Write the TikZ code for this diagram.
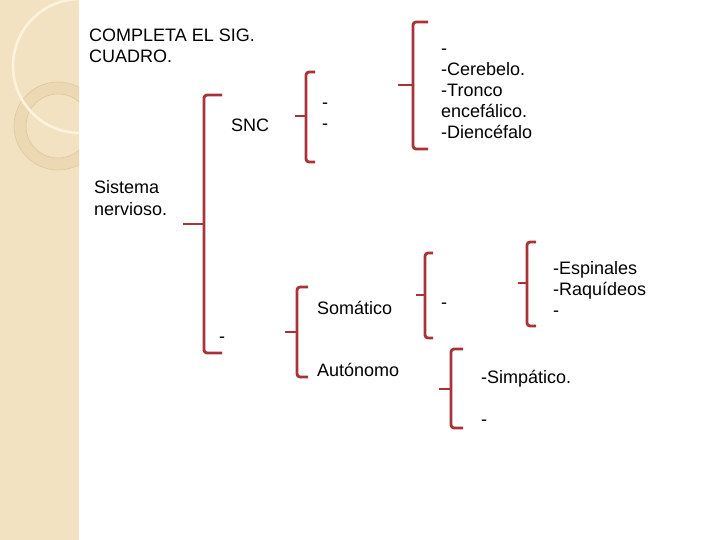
\documentclass[tikz,border=0pt]{standalone}
\usepackage{fontspec}
\setmainfont{Liberation Sans}
\definecolor{brk}{RGB}{168,50,54}
\definecolor{strip}{RGB}{242,226,194}
\definecolor{ringc}{RGB}{236,216,178}
\definecolor{ringline}{RGB}{222,200,158}
\definecolor{arcc}{RGB}{251,243,222}
\newcommand\mybrace[6]{%
  \draw[brace] (#6,#2) -- (#1,#2) -- (#1,#4) -- (#6,#4);
  \draw[brace] (#5,#3) -- (#1,#3);}
\begin{document}
\begin{tikzpicture}[x=1pt,y=-1pt,
  txt/.style={inner sep=0pt, anchor=base west, font=\fontsize{18}{21}\selectfont},
  brace/.style={draw=brk, line width=2.8pt, rounded corners=3pt}]
\useasboundingbox (0,0) rectangle (720,540);
\fill[white] (0,0) rectangle (720,540);
% decorative strip
\fill[strip] (0,0) rectangle (79,540);
\begin{scope}
  \clip (0,0) rectangle (79,540);
  \fill[ringc, even odd rule] (58,126) circle[radius=44] (58,126) circle[radius=32];
  \draw[ringline, line width=0.6pt] (58,126) circle[radius=44];
  \draw[ringline, line width=0.6pt] (58,126) circle[radius=32];
  \draw[arcc, line width=2.6pt] (80,66) circle[radius=67];
\end{scope}
% texts
\node[txt] (t1) at (89,42) {COMPLETA EL SIG.};
\node[txt] (t2) at (89,63) {CUADRO.};
\node[txt] (sis1) at (94,194) {Sistema};
\node[txt] (sis2) at (94,215) {nervioso.};
\node[txt] (snc) at (231,132) {SNC};
\node[txt] (d1) at (322,109) {-};
\node[txt] (d2) at (322,130) {-};
\node[txt] (c0) at (441,55) {-};
\node[txt] (c1) at (441,76) {-Cerebelo.};
\node[txt] (c2) at (441,97) {-Tronco};
\node[txt] (c3) at (441,118) {encefálico.};
\node[txt] (c4) at (441,139) {-Diencéfalo};
\node[txt] (snp) at (219,342) {-};
\node[txt] (som) at (317,314) {Somático};
\node[txt] (aut) at (317,376) {Autónomo};
\node[txt] (sd) at (441,308) {-};
\node[txt] (e1) at (553,274) {-Espinales};
\node[txt] (e2) at (553,295) {-Raquídeos};
\node[txt] (e3) at (553,316) {-};
\node[txt] (s1) at (481,383) {-Simpático.};
\node[txt] (s2) at (481,425) {-};
% brackets: x, top, tip y, bottom, tip x, hook x
\mybrace{204}{95}{224}{353}{183}{222}
\mybrace{306}{72}{116}{162}{295}{315}
\mybrace{413}{22}{85}{149}{398}{428}
\mybrace{297}{287}{332}{377}{285}{308}
\mybrace{425}{253}{295}{338}{416}{433}
\mybrace{527}{242}{283}{326}{518}{536}
\mybrace{451}{349}{389}{428}{439}{463}
\end{tikzpicture}
\end{document}
